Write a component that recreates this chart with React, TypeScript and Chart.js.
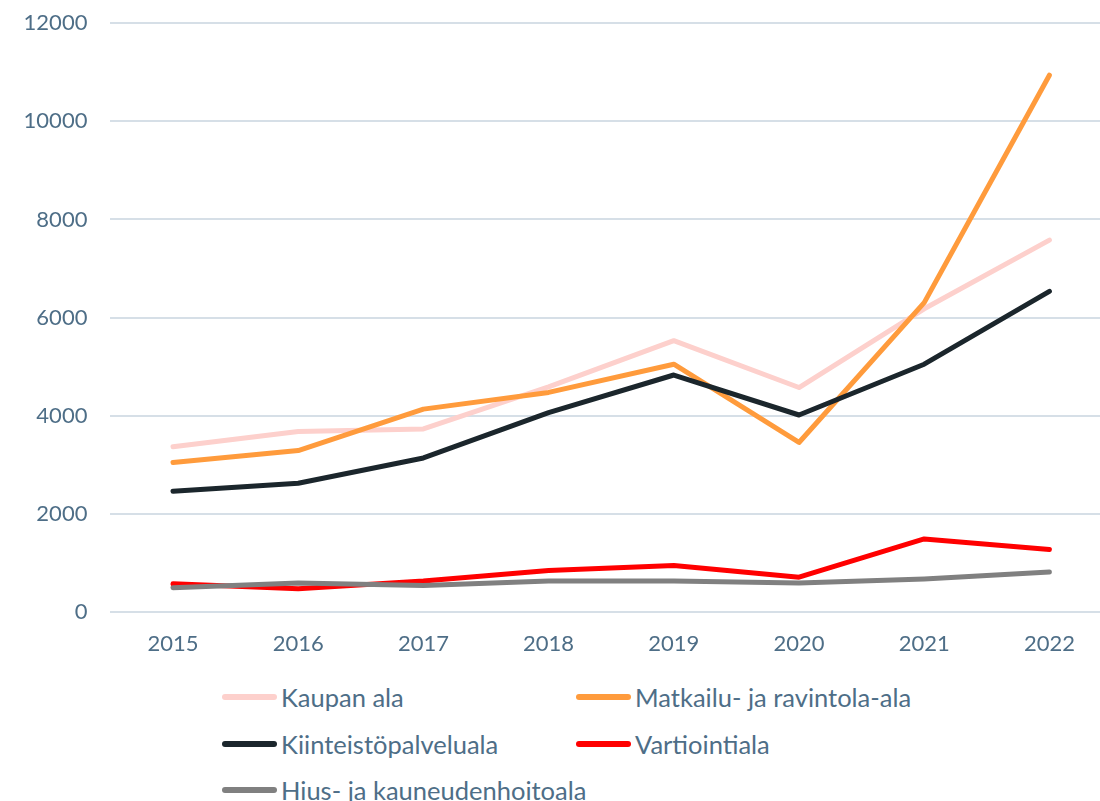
import React, { useEffect, useRef } from "react";
import { Chart, registerables } from "chart.js";

Chart.register(...registerables);

const years = ["2015", "2016", "2017", "2018", "2019", "2020", "2021", "2022"];
const kaupanAla = [3370, 3680, 3730, 4590, 5530, 4575, 6180, 7580];
const matkailuAla = [3045, 3290, 4135, 4475, 5050, 3455, 6305, 10940];
const kiinteistoAla = [2460, 2625, 3140, 4065, 4830, 4015, 5050, 6535];
const vartiointiAla = [575, 475, 630, 845, 950, 710, 1490, 1275];
const hiusAla = [495, 590, 540, 630, 630, 590, 675, 815];

const seriesNames = [
  "Kaupan ala",
  "Matkailu- ja ravintola-ala",
  "Kiinteistöpalveluala",
  "Vartiointiala",
  "Hius- ja kauneudenhoitoala",
];
const seriesValues = [kaupanAla, matkailuAla, kiinteistoAla, vartiointiAla, hiusAla];
const seriesColors = ["#fdd0cc", "#ff9b3c", "#1b262c", "#ff0000", "#808080"];

const TEXT = "#4e6e87";
const FONT = "Lato, 'Noto Sans', sans-serif";

export default function App() {
  const ref = useRef<HTMLCanvasElement | null>(null);

  useEffect(() => {
    if (!ref.current) return;
    const chart = new Chart(ref.current, {
      type: "line",
      data: {
        labels: years,
        datasets: seriesNames.map((name, i) => ({
          label: name,
          data: seriesValues[i],
          borderColor: seriesColors[i],
          backgroundColor: seriesColors[i],
          borderWidth: 5,
          pointRadius: 0,
          tension: 0,
          borderCapStyle: "round" as const,
          borderJoinStyle: "round" as const,
          order: seriesNames.length - i,
        })),
      },
      options: {
        responsive: false,
        animation: false,
        layout: { padding: { top: 9, right: 0, bottom: 0, left: 0 } },
        plugins: { legend: { display: false }, tooltip: { enabled: false } },
        scales: {
          x: {
            offset: true,
            grid: { display: false, drawTicks: false },
            border: { display: false },
            ticks: { color: TEXT, font: { family: FONT, size: 22 }, padding: 19 },
            afterFit: (axis: any) => {
              axis.height = 50;
            },
          },
          y: {
            min: 0,
            max: 12000,
            grid: { color: "#d6dfe7", lineWidth: 2, drawTicks: false },
            border: { display: false },
            ticks: {
              stepSize: 2000,
              color: TEXT,
              font: { family: FONT, size: 22 },
              padding: 23,
              callback: (v: any) => String(v),
            },
            afterFit: (axis: any) => {
              axis.width = 110.4;
            },
          },
        },
      },
    });
    return () => chart.destroy();
  }, []);

  const legendPos = [
    { left: 222, top: 697 },
    { left: 576, top: 697 },
    { left: 222, top: 744 },
    { left: 576, top: 744 },
    { left: 222, top: 790 },
  ];

  return (
    <div style={{ position: "fixed", left: 0, top: 0, width: 1100, height: 801, overflow: "hidden", background: "#fff" }}>
      <canvas
        ref={ref}
        width={1112}
        height={675}
        style={{ position: "absolute", left: 0, top: -13, width: 1112, height: 675 }}
      />
      {seriesNames.map((name, i) => (
        <div
          key={name}
          style={{
            position: "absolute",
            left: legendPos[i].left,
            top: legendPos[i].top - 15,
            height: 30,
            display: "flex",
            alignItems: "center",
            whiteSpace: "nowrap",
            fontFamily: FONT,
            fontSize: 25.5,
            color: TEXT,
          }}
        >
          <span
            style={{
              display: "inline-block",
              width: 55,
              height: 6,
              borderRadius: 3,
              background: seriesColors[i],
              marginRight: 4,
            }}
          />
          <span>{name}</span>
        </div>
      ))}
    </div>
  );
}
